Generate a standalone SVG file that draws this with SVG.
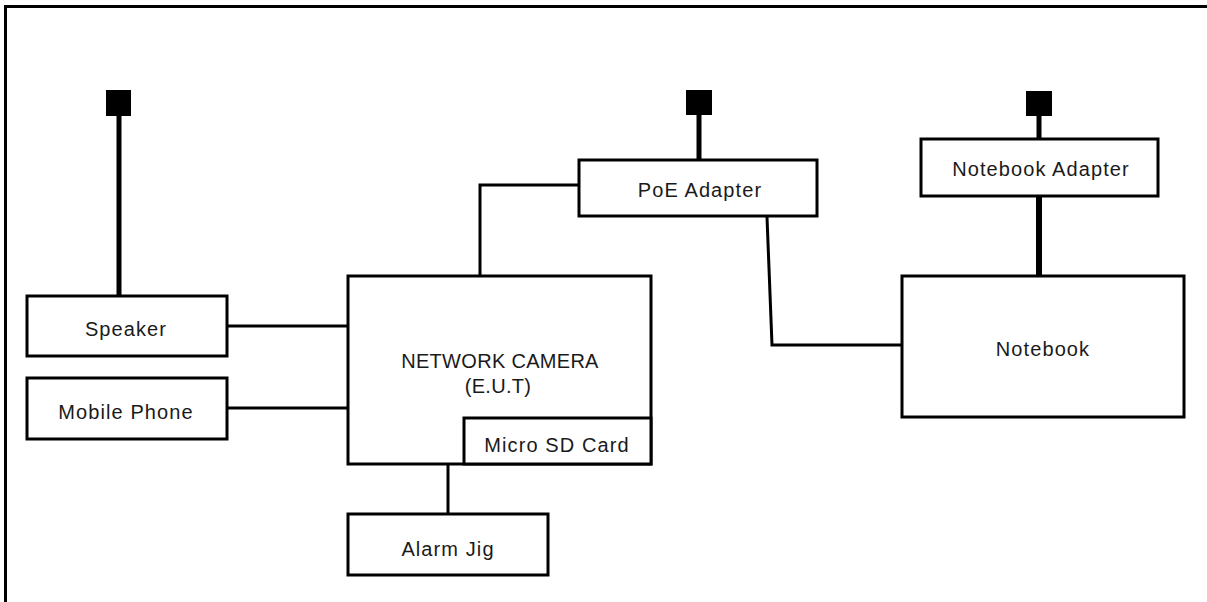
<svg xmlns="http://www.w3.org/2000/svg" width="1207" height="602" viewBox="0 0 1207 602">
<style>
.box{fill:#fff;stroke:#000;stroke-width:3}
.ln{fill:none;stroke:#000;stroke-width:3}
.pw{fill:none;stroke:#000;stroke-width:5}
.plug{fill:#000}
text{font-family:"Liberation Sans",Arial,sans-serif;font-size:20px;fill:#1a1a1a;text-anchor:middle;letter-spacing:1.1px}
.tight{letter-spacing:0.3px}
</style>
<rect width="1207" height="602" fill="#fff"/>
<path class="ln" d="M5.5,602 V6.5 H1207"/>
<g id="connectors">
<path class="pw" d="M119,116 V296"/>
<path class="pw" d="M699,115 V159"/>
<path class="pw" d="M1039,116 V138"/>
<path class="pw" d="M1039,196 V275" style="stroke-width:6"/>
<path class="ln" d="M227,326 H348"/>
<path class="ln" d="M227,408 H348"/>
<path class="ln" d="M579,185 H480 V275"/>
<path class="ln" d="M448,464 V513"/>
<path class="ln" d="M767,217 L772,345 H901"/>
</g>
<g id="plug-speaker"><rect class="plug" x="106" y="90" width="25" height="26"/></g>
<g id="plug-poe"><rect class="plug" x="686" y="90" width="26" height="25"/></g>
<g id="plug-notebook"><rect class="plug" x="1026" y="91" width="26" height="25"/></g>
<g id="speaker"><rect class="box" x="27" y="296" width="200" height="60"/><text x="126" y="336">Speaker</text></g>
<g id="mobile-phone"><rect class="box" x="27" y="378" width="200" height="61"/><text x="126" y="419">Mobile Phone</text></g>
<g id="camera"><rect class="box" x="348" y="276" width="303" height="188"/><text class="tight" x="500" y="368">NETWORK CAMERA</text><text class="tight" x="498" y="393">(E.U.T)</text></g>
<g id="sdcard"><rect class="box" x="464" y="418" width="187" height="46"/><text x="557" y="452">Micro SD Card</text></g>
<g id="alarm-jig"><rect class="box" x="348" y="514" width="200" height="61"/><text x="448" y="556">Alarm Jig</text></g>
<g id="poe-adapter"><rect class="box" x="579" y="160" width="238" height="56"/><text x="700" y="197">PoE Adapter</text></g>
<g id="notebook-adapter"><rect class="box" x="921" y="139" width="237" height="57"/><text x="1041" y="176">Notebook Adapter</text></g>
<g id="notebook"><rect class="box" x="902" y="276" width="282" height="141"/><text x="1043" y="356">Notebook</text></g>
</svg>
